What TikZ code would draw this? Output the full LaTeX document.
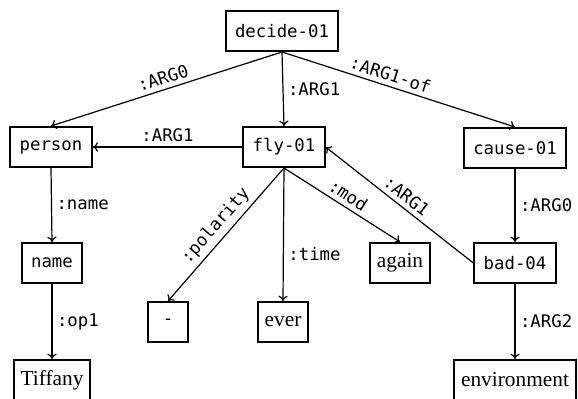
\documentclass[tikz,border=0pt]{standalone}
\usepackage{fontspec}
\setmainfont{Liberation Serif}
\setmonofont{DejaVu Sans Mono}
\usetikzlibrary{arrows.meta}

\begin{document}
\begin{tikzpicture}[x=0.75pt,y=-0.75pt,
  concept/.style={draw,line width=1.5pt,inner xsep=7pt,minimum height=30pt,font=\fontsize{13}{15}\selectfont\ttfamily},
  constant/.style={draw,line width=1.5pt,inner xsep=5pt,minimum height=30pt,font=\fontsize{16}{18}\selectfont},
  role/.style={font=\fontsize{13}{15}\selectfont\ttfamily},
  edge/.style={-{To[length=4pt,width=7pt]},line width=0.9pt}]
% fix the page to the picture
\useasboundingbox (0,0) rectangle (578,399);

% concepts
\node[concept] (decide) at (282,31) {decide-01};
\node[concept] (person) at (51,147) {person};
\node[concept] (fly) at (284,147) {fly-01};
\node[concept] (cause) at (515,148) {cause-01};
\node[concept] (name) at (52,263) {name};
\node[concept] (bad) at (515,263) {bad-04};
\node[concept,minimum width=30pt] (neg) at (168,322) {-};

% constants
\node[constant] (tiffany) at (52,380) {Tiffany};
\node[constant] (ever) at (283,322) {ever};
\node[constant] (again) at (400,263) {again};
\node[constant] (env) at (515,380) {environment};

% relations
\draw[edge] (decide.south) -- node[role,sloped,above] {:ARG0} (person.north);
\draw[edge] (decide.south) -- node[role,right] {:ARG1} (fly.north);
\draw[edge] (decide.south) -- node[role,sloped,above,pos=0.45] {:ARG1-of} (cause.north);
\draw[edge] (fly.west) -- node[role,above] {:ARG1} (person.east);
\draw[edge] (person.south) -- node[role,right] {:name} (name.north);
\draw[edge] (name.south) -- node[role,right] {:op1} (tiffany.north);
\draw[edge] (fly.south) -- node[role,sloped,above] {:polarity} (neg.north);
\draw[edge] (fly.south) -- node[role,right,pos=0.65] {:time} (ever.north);
\draw[edge] (fly.south) -- node[role,sloped,above] {:mod} (again.north);
\draw[edge] (bad.west) -- node[role,sloped,above] {:ARG1} (fly.east);
\draw[edge] (cause.south) -- node[role,right] {:ARG0} (bad.north);
\draw[edge] (bad.south) -- node[role,right] {:ARG2} (env.north);

\end{tikzpicture}
\end{document}
